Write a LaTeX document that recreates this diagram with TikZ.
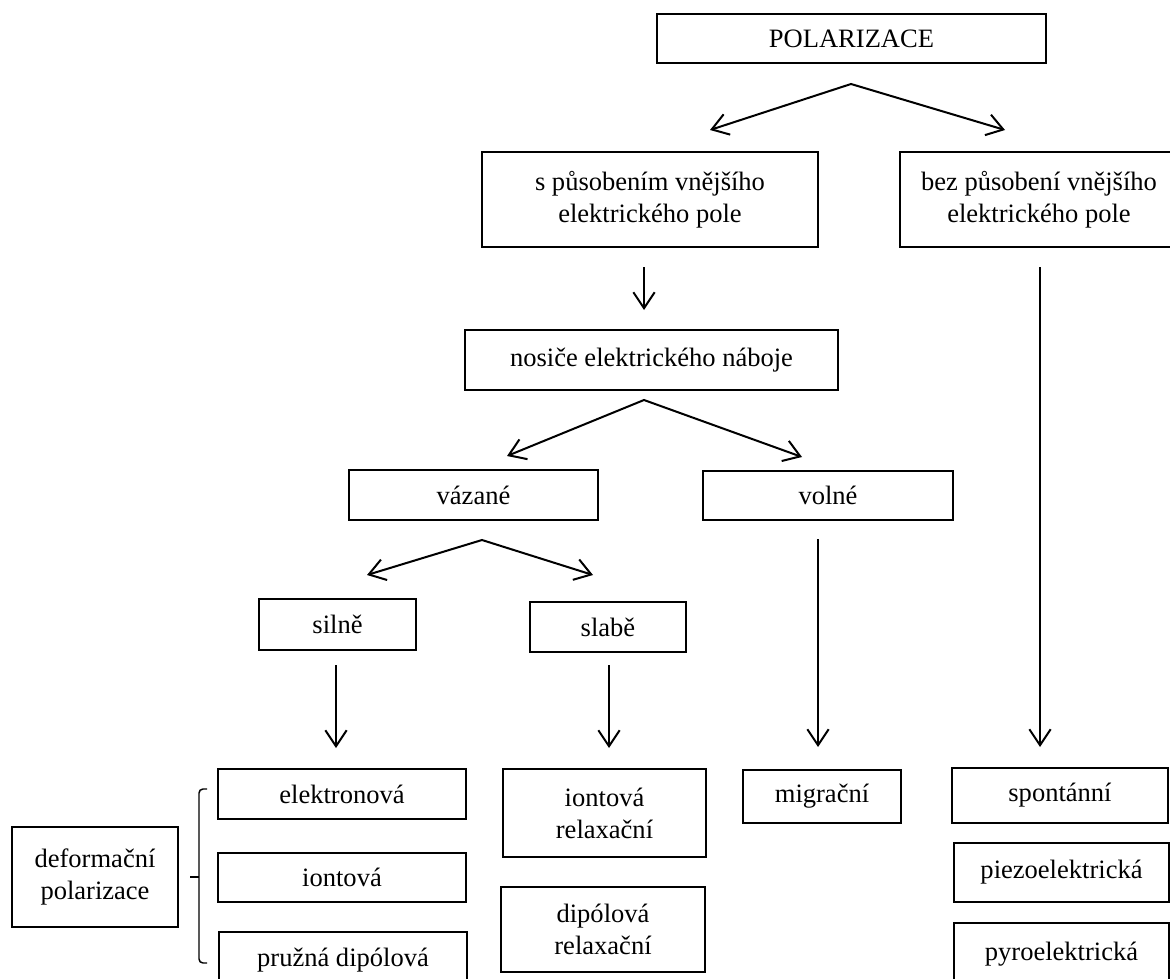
\documentclass[tikz,border=0pt]{standalone}
\usepackage{fontspec}
\setmainfont{Liberation Serif}
\usetikzlibrary{arrows.meta}
\newcommand{\bx}[6]{\node[box, minimum width={(#4-#2)*0.75pt}, minimum height={(#5-#3)*0.75pt}] (#1) at ({(#2+#4)/2},{(#3+#5)/2}) {#6};}
\begin{document}
\begin{tikzpicture}[x=0.75pt,y=-0.75pt,
  box/.style={draw, line width=1.6pt, inner sep=0pt, align=center, font=\fontsize{19.9}{24}\selectfont},
  conn/.style={line width=1.5pt},
  >={Straight Barb[length=12pt,width=16pt]}]
\clip (0,0) rectangle (1170,978);
\fill[white] (0,0) rectangle (1170,978);
% boxes
\bx{pol}{657}{14}{1046}{63}{POLARIZACE}
\bx{spus}{482}{152}{818}{247}{s působením vnějšího\\elektrického pole}
\bx{bez}{900}{152}{1178}{247}{bez působení vnějšího\\elektrického pole}
\bx{nos}{465}{330}{838}{390}{nosiče elektrického náboje}
\bx{vaz}{349}{470}{598}{520}{vázané}
\bx{vol}{703}{471}{953}{520}{volné}
\bx{sil}{259}{599}{416}{650}{silně}
\bx{sla}{530}{602}{686}{652}{slabě}
\bx{ele}{218}{769}{466}{819}{elektronová}
\bx{ion}{218}{853}{466}{902}{iontová}
\bx{pru}{219}{932}{467}{988}{pružná dipólová}
\bx{def}{12}{827}{178}{927}{deformační\\polarizace}
\bx{irel}{503}{769}{706}{857}{iontová\\relaxační}
\bx{drel}{501}{887}{705}{972}{dipólová\\relaxační}
\bx{mig}{743}{770}{901}{823}{migrační}
\bx{spo}{952}{768}{1168}{823}{spontánní}
\bx{pie}{954}{843}{1169}{902}{piezoelektrická}
\bx{pyr}{954}{923}{1169}{985}{pyroelektrická}
% connector coordinates
\coordinate (a1) at (851,84);
\coordinate (a1l) at (710,130);
\coordinate (a1r) at (1005,130);
\coordinate (s1) at (644,267);
\coordinate (s1e) at (644,310);
\coordinate (b1) at (1040,267);
\coordinate (b1e) at (1040,747);
\coordinate (a2) at (644,400);
\coordinate (a2l) at (507,456);
\coordinate (a2r) at (802,457);
\coordinate (a3) at (482,540);
\coordinate (a3l) at (367,575);
\coordinate (a3r) at (593,575);
\coordinate (v1) at (818,539);
\coordinate (v1e) at (818,747);
\coordinate (si1) at (336,665);
\coordinate (si1e) at (336,748);
\coordinate (sl1) at (609,665);
\coordinate (sl1e) at (609,748);
% connectors
\draw[conn,<->] (a1l) -- (a1) -- (a1r);
\draw[conn,->] (s1) -- (s1e);
\draw[conn,->] (b1) -- (b1e);
\draw[conn,<->] (a2l) -- (a2) -- (a2r);
\draw[conn,<->] (a3l) -- (a3) -- (a3r);
\draw[conn,->] (v1) -- (v1e);
\draw[conn,->] (si1) -- (si1e);
\draw[conn,->] (sl1) -- (sl1e);
% bracket
\draw[line width=1.1pt, rounded corners=3pt] (207,789) -- (199,789) -- (199,963) -- (207,963);
\draw[line width=1.1pt] (199,877) -- (190,877);
\end{tikzpicture}
\end{document}
